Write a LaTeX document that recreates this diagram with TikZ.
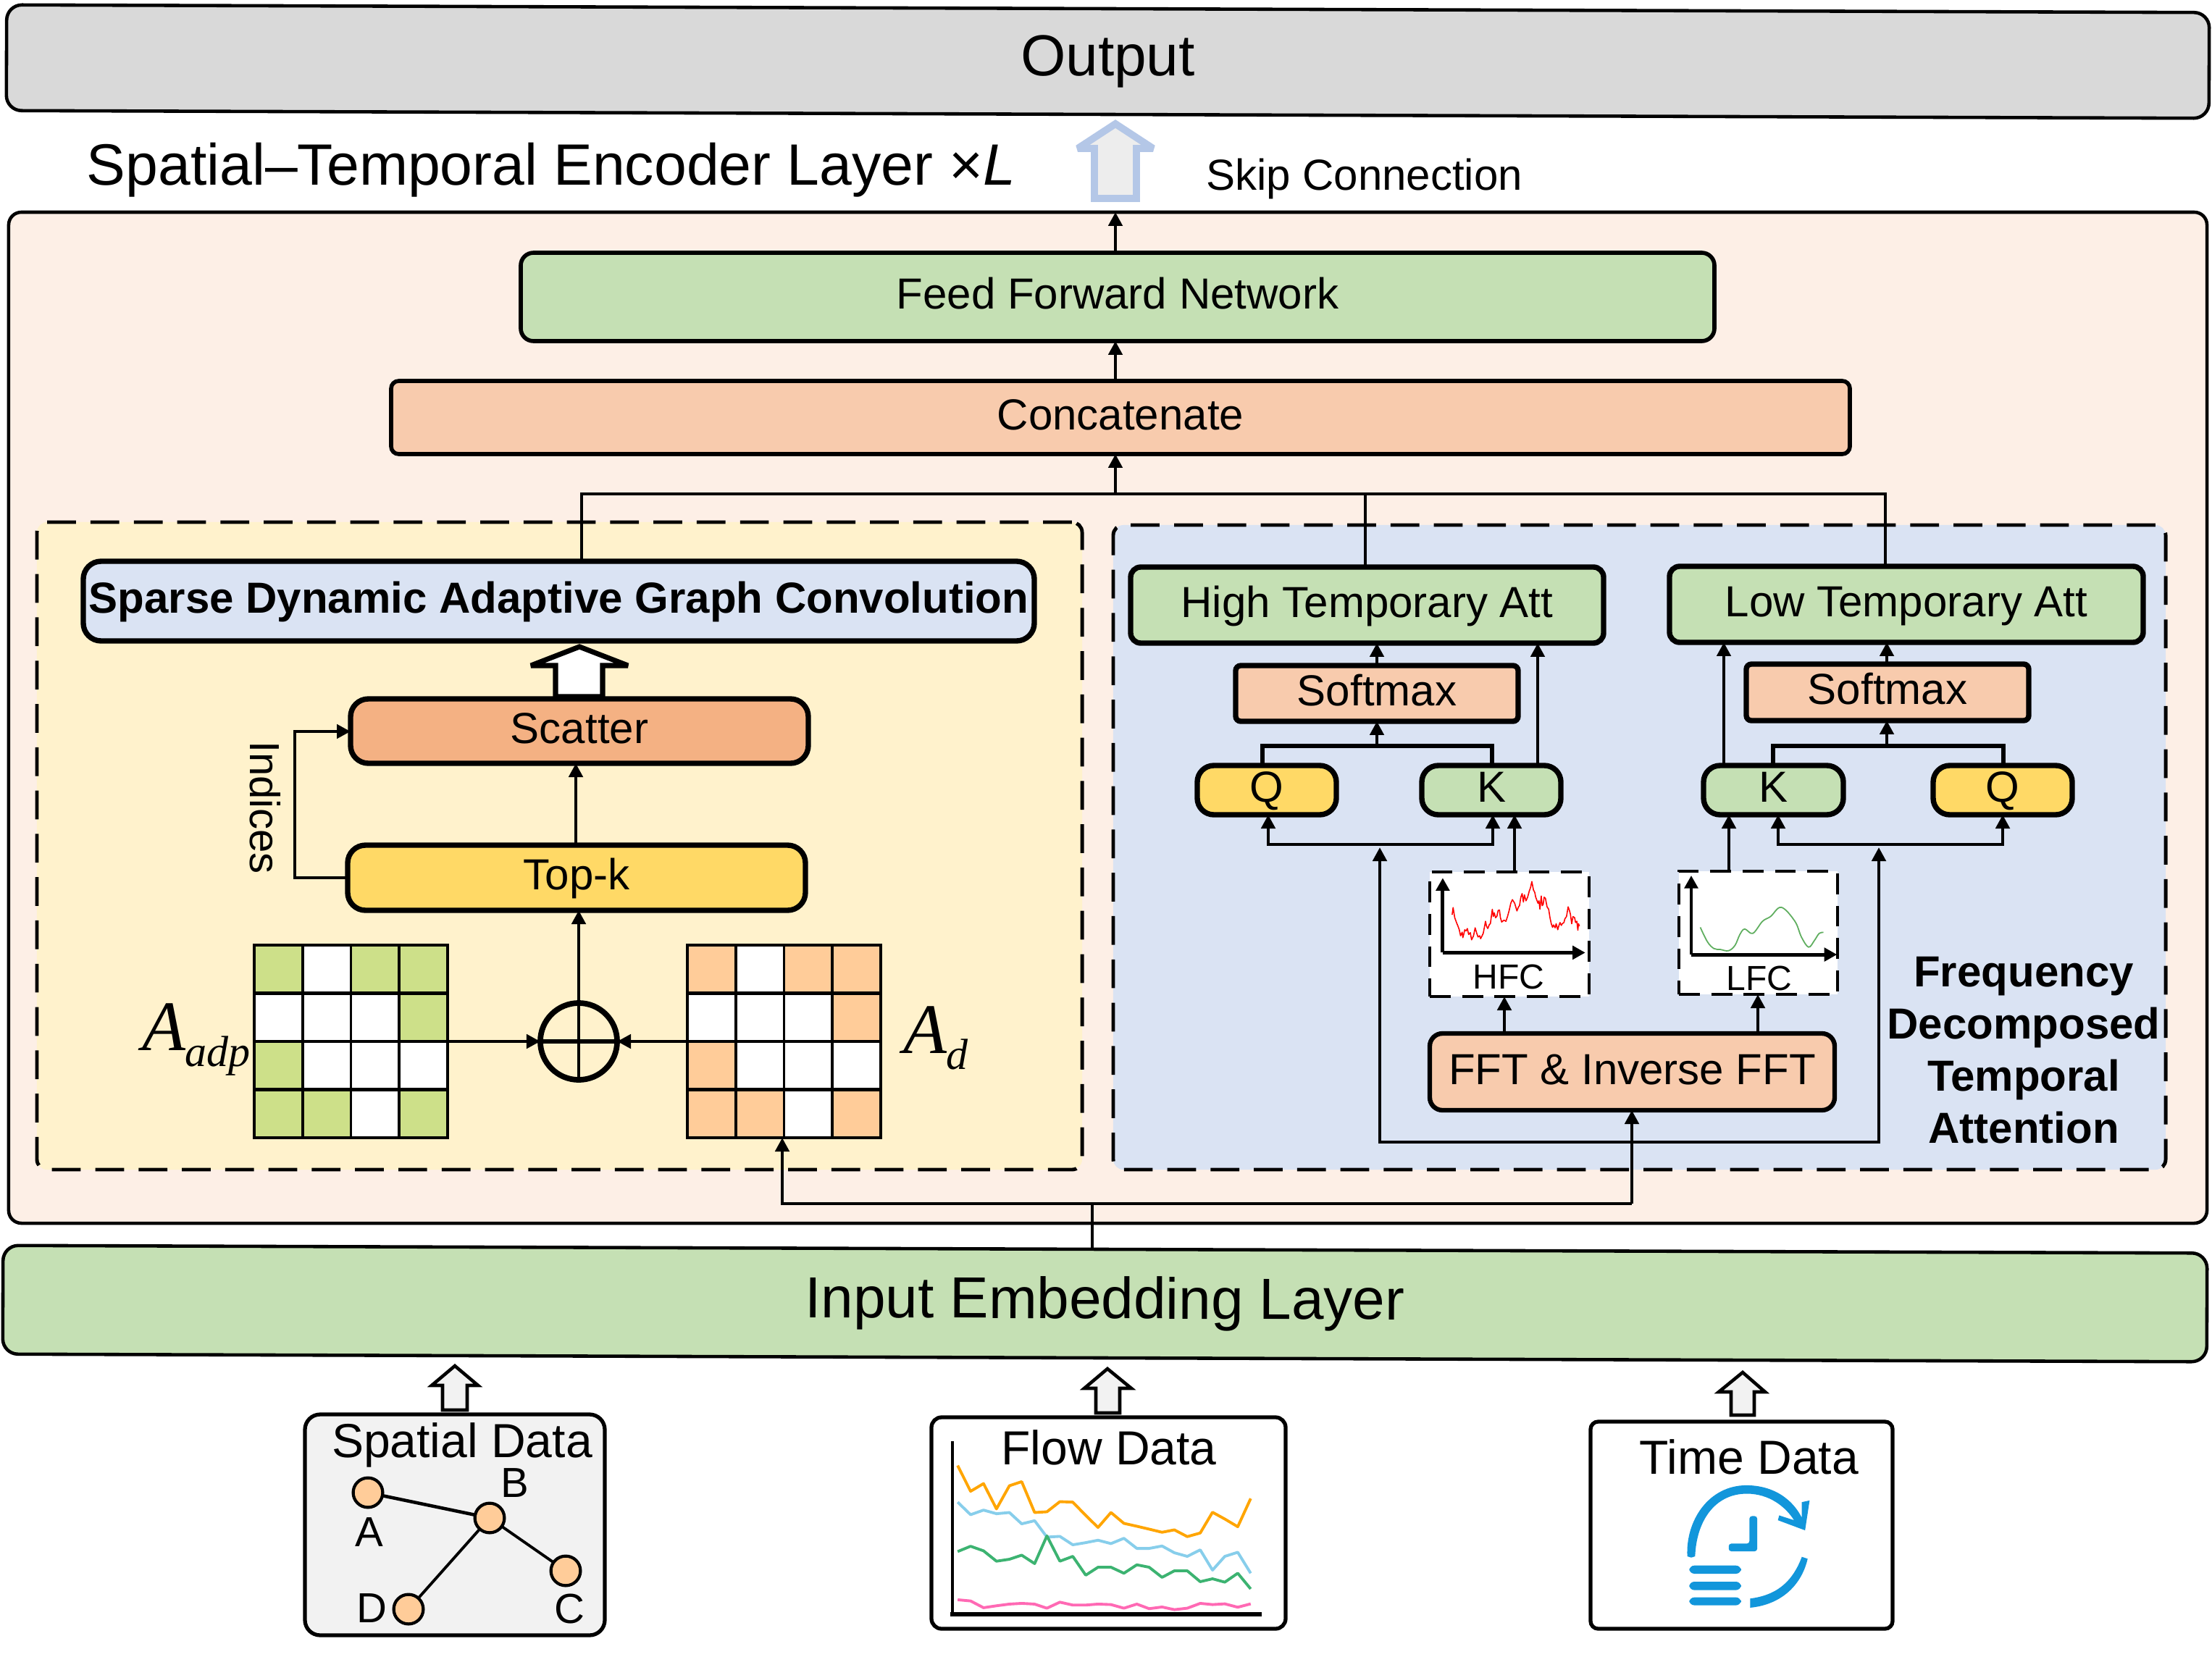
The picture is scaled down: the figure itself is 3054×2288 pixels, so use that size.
\documentclass[tikz,border=0pt]{standalone}
\usepackage{fontspec}
\setmainfont{Liberation Sans}
\newfontfamily\tmsfont{Liberation Serif}
\usetikzlibrary{arrows.meta}
\definecolor{cOut}{HTML}{D9D9D9}
\definecolor{cEnc}{HTML}{FDEFE6}
\definecolor{cYel}{HTML}{FFF2CC}
\definecolor{cBlu}{HTML}{DAE3F3}
\definecolor{cGrn}{HTML}{C5E0B4}
\definecolor{cOrg}{HTML}{F8CBAD}
\definecolor{cScat}{HTML}{F4B183}
\definecolor{cGold}{HTML}{FFD966}
\definecolor{cCellG}{HTML}{CDE089}
\definecolor{cCellO}{HTML}{FFCC99}
\definecolor{cClock}{HTML}{1296DB}
\definecolor{cSkip}{HTML}{B4C7E7}
\definecolor{cLow}{HTML}{5FAE5F}
\newcommand{\mybox}[7]{%
  \pgfmathsetmacro\bcx{(#2+#4)/2}%
  \pgfmathsetmacro\bcy{(#3+#5)/2}%
  \pgfmathsetmacro\bww{(#4-#2)*0.01}%
  \pgfmathsetmacro\bhh{(#5-#3)*0.01}%
  \node[#6,minimum width=\bww cm,minimum height=\bhh cm,inner sep=0pt,outer sep=0pt] (#1) at (\bcx,\bcy) {#7};}
\tikzset{
  fL/.style={font=\fontsize{22.76}{27}\selectfont},
  fT/.style={font=\fontsize{22.9}{27}\selectfont},
  fM/.style={font=\fontsize{17.07}{20}\selectfont,text height=12pt,text depth=2.34pt},
  fQ/.style={font=\fontsize{17.07}{20}\selectfont,text height=12pt,text depth=2.9pt},
  fB/.style={font=\fontsize{17.07}{20.5}\selectfont\bfseries},
  fD/.style={font=\fontsize{18.78}{22}\selectfont},
  fS/.style={font=\fontsize{17.07}{20}\selectfont},
  fN/.style={font=\fontsize{16.5}{20}\selectfont},
  fH/.style={font=\fontsize{13.66}{16}\selectfont},
  plain/.style={inner sep=0pt,outer sep=0pt},
  bigbox/.style={draw,line width=1.3pt,rounded corners=5pt},
  blk/.style={draw,line width=1.6pt,rounded corners=#1},
  blk/.default=5pt,
  thk/.style={draw,line width=2.1pt,rounded corners=#1},
  thk/.default=7pt,
  arr/.style={line width=1.4pt,-{Triangle[length=5.4pt,width=5.4pt]}},
  ln/.style={line width=1.4pt},
  dashY/.style={draw,line width=1.4pt,dash pattern=on 11.3pt off 5.7pt,rounded corners=4pt},
  dashH/.style={draw,line width=1.3pt,dash pattern=on 8.2pt off 4.5pt,fill=white},
  hollow/.style={draw,line width=1.3pt,fill=black!5,line join=miter},
  serie/.style={line width=1.1pt,line join=round},
  axis/.style={line width=1.4pt,-{Triangle[length=5pt,width=5.2pt]}},
  clk/.style={fill=cClock,draw=none},
  gnode/.style={draw,line width=1.2pt,fill=cCellO,circle,minimum size=11.6pt,inner sep=0pt,outer sep=0pt},
  grid/.style={draw,line width=1.3pt},
}
\begin{document}
\begin{tikzpicture}[x=0.01cm,y=-0.01cm]
\useasboundingbox (0,0) rectangle (3054,2288);
\foreach \v in {508,795,803,1080,1508,1540,1743,1751,1885,1901,1905,2060,2061,2077,2090,2091,2123,2253,2380,2387,2427,2448,2455,2594,2595,2603,2605,2765,2766}
  {\coordinate (x\v) at (\v,0);}
% top
\mybox{out}{9}{12}{3050}{158}{bigbox,fill=cOut,fL,rotate=-0.2,rounded corners=6pt}{Output}
\node[plain,fT,anchor=base west] (title) at (120,255) {Spatial–Temporal Encoder Layer ×\textit{L}};
\draw[line width=2.8pt,draw=cSkip,fill=black!7,line join=miter,miter limit=3] (1540,171) -- (1592,205) -- (1569,205) -- (1569,274) -- (1511,274) -- (1511,205) -- (1488,205) -- cycle;
\node[plain,fS,anchor=base west] (skip) at (1665,263) {Skip Connection};
% encoder
\mybox{enc}{12}{293}{3047}{1689}{bigbox,fill=cEnc}{}
\mybox{ypanel}{51}{721}{1494}{1615}{dashY,fill=cYel}{}
\mybox{bpanel}{1537}{725}{2990}{1615}{dashY,fill=cBlu}{}
\mybox{ffn}{719}{349}{2367}{471}{blk,fill=cGrn,fM}{Feed Forward Network}
\mybox{con}{540}{526}{2554}{627}{blk=3pt,fill=cOrg,fM}{Concatenate}
% left panel
\mybox{sdagc}{115}{775}{1428}{885}{thk=7pt,fill=cBlu,fB,text height=12pt,text depth=2.34pt}{Sparse Dynamic Adaptive Graph Convolution}
\mybox{scat}{484}{965}{1116}{1054}{thk=7pt,fill=cScat,fM}{Scatter}
\mybox{topk}{480}{1167}{1112}{1257}{thk=7pt,fill=cGold,fM}{Top-k}
\draw[line width=2pt,fill=white,line join=miter,miter limit=3] (800,893) -- (867,919) -- (832,919) -- (832,962) -- (767,962) -- (767,919) -- (733,919) -- cycle;
\node[plain,fN,rotate=-90] (ind) at (366,1115) {Indices};
% matrices
\foreach \r/\c in {0/0,0/2,0/3,1/3,2/0,3/0,3/1,3/3}{
  \fill[cCellG] ({351+\c*66.75},{1305+\r*66.5}) rectangle ++(66.75,66.5);
  \fill[cCellO] ({949+\c*66.75},{1305+\r*66.5}) rectangle ++(66.75,66.5);
}
\foreach \r/\c in {0/1,1/0,1/1,1/2,2/1,2/2,2/3,3/2}{
  \fill[white] ({351+\c*66.75},{1305+\r*66.5}) rectangle ++(66.75,66.5);
  \fill[white] ({949+\c*66.75},{1305+\r*66.5}) rectangle ++(66.75,66.5);
}
\foreach \o in {351,949}{
  \foreach \i in {1,2,3}{
    \draw[line width=1.1pt] ({\o+\i*66.75},1305) -- ({\o+\i*66.75},1571);
    \draw[line width=1.4pt] (\o,{1305+\i*66.5}) -- ({\o+267},{1305+\i*66.5});
  }
}
\mybox{madp}{351}{1305}{618}{1571}{grid}{}
\mybox{md}{949}{1305}{1216}{1571}{grid}{}
\node[plain,anchor=base west] (ladp) at (196,1450) {\tmsfont\itshape\fontsize{27.9}{30}\selectfont A\raisebox{-6.5pt}{\fontsize{17.07}{20}\selectfont adp}};
\node[plain,anchor=base west] (ld) at (1247,1454) {\tmsfont\itshape\fontsize{27.9}{30}\selectfont A\raisebox{-6.5pt}{\fontsize{17.07}{20}\selectfont d}};
\node[circle,draw,line width=2.2pt,minimum size=1.06cm,inner sep=0pt,outer sep=0pt] (op) at (799,1438) {};
\draw[line width=1.4pt] (op.north) -- (op.south);
\draw[line width=1.9pt] (op.west) -- (op.east);
% right panel
\mybox{high}{1561}{783}{2214}{888}{thk=4pt,fill=cGrn,fM}{High Temporary Att}
\mybox{low}{2305}{782}{2959}{887}{thk=4pt,fill=cGrn,fM}{Low Temporary Att}
\mybox{smA}{1706}{919}{2096}{996}{thk=2pt,fill=cOrg,fM}{Softmax}
\mybox{smB}{2411}{917}{2801}{995}{thk=2pt,fill=cOrg,fM}{Softmax}
\mybox{qA}{1653}{1057}{1845}{1125}{thk=6.5pt,fill=cGold,fQ}{Q}
\mybox{kA}{1963}{1057}{2155}{1125}{thk=6.5pt,fill=cGrn,fQ}{K}
\mybox{kB}{2352}{1057}{2545}{1125}{thk=6.5pt,fill=cGrn,fQ}{K}
\mybox{qB}{2669}{1057}{2861}{1125}{thk=6.5pt,fill=cGold,fQ}{Q}
\mybox{hfc}{1974}{1204}{2194}{1376}{dashH}{}
\mybox{lfc}{2318}{1203}{2537}{1373}{dashH}{}
\mybox{fft}{1974}{1427}{2533}{1533}{draw,line width=1.8pt,rounded corners=5pt,fill=cOrg,fM}{FFT \& Inverse FFT}
\node[plain,fH,anchor=base] (thfc) at (2083,1365) {HFC};
\node[plain,fH,anchor=base] (tlfc) at (2429,1367) {LFC};
\node[plain,fB,align=center] (freq) at (2794,1450) {Frequency\\Decomposed\\Temporal\\Attention};
% small charts
\begin{scope}[shift={(19cm,-11.5cm)},x=0.004464cm,y=-0.003333cm]
\coordinate (ho) at (203,495); \coordinate (hy) at (203,185); \coordinate (hx) at (643,495);
\draw[axis] (ho) -- (hy);
\draw[axis] (ho) -- (hx);
\draw[red,line width=0.45pt,line join=round] plot coordinates {(232,338)(235,308)(240,350)(246,372)(250,385)(254,400)(258,425)(263,410)(265,433)(268,418)(271,400)(275,405)(279,395)(283,420)(288,412)(292,442)(298,425)(303,392)(308,415)(312,430)(317,425)(320,437)(328,415)(335,365)(338,385)(342,395)(347,378)(350,375)(356,315)(359,345)(362,330)(366,350)(370,345)(374,320)(378,318)(381,350)(385,368)(392,360)(398,365)(403,345)(408,320)(413,290)(418,275)(425,290)(432,322)(437,305)(440,300)(444,265)(448,250)(452,285)(455,255)(460,280)(465,265)(470,240)(474,225)(478,200)(483,235)(487,245)(490,265)(497,290)(500,280)(503,315)(507,260)(510,300)(513,295)(516,265)(520,270)(525,305)(530,315)(534,350)(538,375)(542,390)(545,380)(550,392)(553,375)(558,400)(561,385)(565,370)(569,382)(572,375)(577,370)(580,355)(585,345)(590,305)(594,320)(597,335)(601,375)(605,345)(610,350)(613,370)(617,365)(620,402)(622,375)(625,385)};
\coordinate (lo) at (970,503); \coordinate (ly) at (970,175); \coordinate (lx) at (1420,503);
\draw[axis] (lo) -- (ly);
\draw[axis] (lo) -- (lx);
\draw[cLow,line width=0.5pt] plot[smooth,tension=0.6] coordinates {(998,390)(1020,450)(1040,478)(1060,482)(1085,487)(1105,465)(1120,420)(1135,397)(1160,415)(1190,365)(1215,345)(1248,307)(1290,365)(1310,430)(1332,472)(1350,445)(1365,415)(1378,411)};
\end{scope}
% input embedding
\mybox{inp}{4}{1725}{3047}{1875}{bigbox,fill=cGrn,fL,rotate=-0.2,rounded corners=6pt}{Input Embedding Layer}
% connectors : top
\draw[arr] (ffn.north -| x1540) -- (enc.north -| x1540);
\draw[arr] (con.north -| x1540) -- (ffn.south -| x1540);
\coordinate (busY) at (0,682);
\draw[arr] (busY -| x1540) -- (con.south -| x1540);
\draw[ln,line join=miter] (sdagc.north -| x803) -- (busY -| x803) -- (busY -| x2603) -- (low.north -| x2603);
\draw[ln] (busY -| x1885) -- (high.north -| x1885);
% left panel
\draw[arr] (topk.north -| x795) -- (scat.south -| x795);
\coordinate (ixL) at (407,0);
\coordinate (iyT) at (0,1010);
\coordinate (iyB) at (0,1212);
\draw[arr,line join=miter] (topk.west |- iyB) -- (ixL |- iyB) -- (ixL |- iyT) -- (scat.west |- iyT);
\draw[arr] (op.north) -- (op.north |- topk.south);
\draw[arr] (madp.east |- op.center) -- (op.west);
\draw[arr] (md.west |- op.center) -- (op.east);
% input feeds
\coordinate (feedY) at (0,1662);
\coordinate (loopY) at (0,1577);
\draw[ln] (inp.north -| x1508) -- (feedY -| x1508);
\draw[arr,line join=miter] (feedY -| x2253) -- (feedY -| x1080) -- (md.south -| x1080);
\draw[arr] (feedY -| x2253) -- (fft.south -| x2253);
\coordinate (tipY) at (0,1170);
\draw[arr,line join=miter] (loopY -| x2253) -- (loopY -| x1905) -- (tipY -| x1905);
\draw[arr,line join=miter] (loopY -| x2253) -- (loopY -| x2594) -- (tipY -| x2594);
\draw[arr] (fft.north -| x2077) -- (hfc.south -| x2077);
\draw[arr] (fft.north -| x2427) -- (lfc.south -| x2427);
\draw[arr] (hfc.north -| x2091) -- (kA.south -| x2091);
\draw[arr] (lfc.north -| x2387) -- (kB.south -| x2387);
\coordinate (feedA) at (0,1166);
\draw[arr,line join=miter] (feedA -| x1905) -- (feedA -| x1751) -- (qA.south -| x1751);
\draw[arr,line join=miter] (feedA -| x1905) -- (feedA -| x2061) -- (kA.south -| x2061);
\draw[arr,line join=miter] (feedA -| x2595) -- (feedA -| x2455) -- (kB.south -| x2455);
\draw[arr,line join=miter] (feedA -| x2595) -- (feedA -| x2765) -- (qB.south -| x2765);
\coordinate (brA) at (0,1030);
\draw[ln,line width=1.7pt,line join=miter] (qA.north -| x1743) -- (brA -| x1743) -- (brA -| x2060) -- (kA.north -| x2060);
\draw[arr] (brA -| x1901) -- (smA.south -| x1901);
\draw[arr] (smA.north -| x1901) -- (high.south -| x1901);
\draw[arr] (kA.north -| x2123) -- (high.south -| x2123);
\draw[ln,line width=1.7pt,line join=miter] (kB.north -| x2448) -- (brA -| x2448) -- (brA -| x2766) -- (qB.north -| x2766);
\draw[arr] (brA -| x2605) -- (smB.south -| x2605);
\draw[arr] (smB.north -| x2605) -- (low.south -| x2605);
\draw[arr] (kB.north -| x2380) -- (low.south -| x2380);
% data boxes
\draw[hollow] (628,1886) -- (660,1913) -- (645,1913) -- (645,1947) -- (611,1947) -- (611,1913) -- (596,1913) -- cycle;
\draw[hollow] (1529,1890) -- (1562,1917) -- (1546,1917) -- (1546,1951) -- (1513,1951) -- (1513,1917) -- (1497,1917) -- cycle;
\draw[hollow] (2406,1895) -- (2437,1922) -- (2422,1922) -- (2422,1954) -- (2390,1954) -- (2390,1922) -- (2373,1922) -- cycle;
\mybox{spd}{421}{1953}{835}{2258}{draw,line width=1.5pt,rounded corners=6pt,fill=black!5}{}
\mybox{flo}{1286}{1957}{1775}{2249}{draw,line width=1.5pt,rounded corners=4pt,fill=white}{}
\mybox{tim}{2196}{1963}{2613}{2249}{draw,line width=1.5pt,rounded corners=3pt,fill=white}{}
\node[plain,fD,anchor=base] (tsp) at (638,2012) {Spatial Data};
\node[plain,fD,anchor=base] (tfl) at (1531,2022) {Flow Data};
\node[plain,fD,anchor=base] (tti) at (2415,2035) {Time Data};
\node[gnode] (na) at (508,2061) {};
\node[gnode] (nb) at (676,2096) {};
\node[gnode] (nc) at (781,2169) {};
\node[gnode] (nd) at (564,2222) {};
\draw[line width=1.3pt] (na) -- (nb);
\draw[line width=1.1pt] (nb) -- (nc);
\draw[line width=1.1pt] (nb) -- (nd);
\node[plain,fN,anchor=base] (la) at (510,2135) {A};
\node[plain,fN,anchor=base] (lb) at (711,2067) {B};
\node[plain,fN,anchor=base] (lc) at (786,2241) {C};
\node[plain,fN,anchor=base] (ld2) at (513,2240) {D};
% flow chart and clock
\begin{scope}[shift={(12.5cm,-19cm)},x=0.008929cm,y=-0.003333cm]
\draw[line width=1.3pt] (72,268) -- (72,985);
\draw[line width=1.7pt] (69,985) -- (550,985);
\draw[serie,color={rgb,255:red,255;green,165;blue,0}] plot coordinates {(80,368)(100,475)(120,443)(140,548)(160,452)(179,435)(199,563)(218,560)(238,518)(258,520)(278,575)(297,625)(317,563)(337,608)(357,620)(376,632)(396,645)(415,635)(435,663)(455,648)(474,562)(493,590)(513,622)(533,505)};
\draw[serie,color={rgb,255:red,135;green,206;blue,235}] plot coordinates {(80,520)(100,572)(120,553)(140,568)(160,563)(179,610)(199,597)(218,665)(238,662)(258,697)(278,688)(297,678)(317,692)(337,670)(357,712)(376,712)(396,702)(415,730)(435,745)(455,718)(474,802)(493,745)(513,728)(533,815)};
\draw[serie,color={rgb,255:red,60;green,179;blue,113}] plot coordinates {(80,725)(100,703)(120,722)(140,765)(160,757)(179,740)(199,775)(218,660)(238,765)(258,745)(278,823)(297,790)(317,790)(337,815)(357,780)(376,790)(396,832)(415,805)(435,805)(455,850)(474,838)(493,852)(513,815)(533,880)};
\draw[serie,color={rgb,255:red,255;green,105;blue,180}] plot coordinates {(80,925)(100,930)(120,958)(140,950)(160,943)(179,940)(199,943)(218,960)(238,935)(258,947)(278,947)(297,943)(317,945)(337,960)(357,943)(376,962)(396,955)(415,966)(435,960)(455,940)(474,945)(493,942)(513,956)(533,942)};
% clock
\fill[clk] (1208,745) .. controls (1205,600) and (1240,450) .. (1300,450) .. controls (1350,452) and (1375,530) .. (1385,585) -- (1385,520) -- (1397,513) -- (1390,637) -- (1348,595) -- (1350,575) -- (1373,595) .. controls (1360,540) and (1335,485) .. (1300,485) .. controls (1250,485) and (1222,600) .. (1220,745) -- (1214,750) -- cycle;
\fill[clk,rounded corners=1pt] (1304,578) -- (1316,578) -- (1316,724) -- (1272,724) -- (1272,692) -- (1304,692) -- cycle;
\fill[clk,rounded corners=2pt] (1211,783) rectangle (1291,817);
\fill[clk,rounded corners=2pt] (1211,850) rectangle (1291,885);
\fill[clk,rounded corners=2pt] (1211,915) rectangle (1291,948);
\fill[clk] (1385,747) -- (1394,755) .. controls (1385,860) and (1355,945) .. (1305,958) -- (1305,920) .. controls (1350,905) and (1372,840) .. (1385,747) -- cycle;
\end{scope}
\end{tikzpicture}
\end{document}
